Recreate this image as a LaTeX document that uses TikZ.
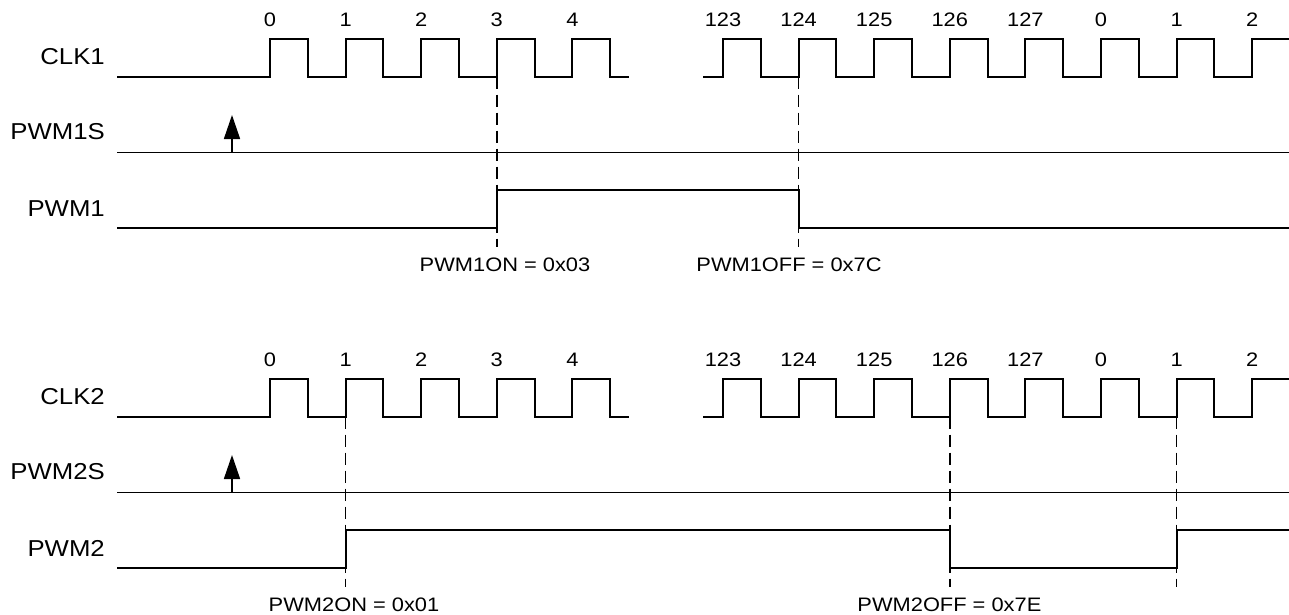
\documentclass[tikz,border=0pt]{standalone}
\usepackage{fontspec}
\usepackage{graphicx}
\setmainfont{Liberation Sans}
\usetikzlibrary{arrows.meta}
\newcommand{\hwide}[1]{\scalebox{1.12}[1]{#1}}
\tikzset{
  sig/.style={line width=2pt, line join=miter},
  thinsig/.style={line width=1.5pt},
  marker/.style={line width=1.5pt, dash pattern=on 12pt off 6pt},
  rowlab/.style={anchor=east, inner sep=0pt, font=\fontsize{23}{23}\selectfont},
  numlab/.style={inner sep=0pt, font=\fontsize{19.5}{19.5}\selectfont},
  reglab/.style={inner sep=0pt, font=\fontsize{19.5}{19.5}\selectfont},
  trig/.style={line width=1.6pt, -{Triangle[length=24pt,width=16pt]}}
}
\begin{document}
\begin{tikzpicture}[x=1pt,y=-1pt]
\useasboundingbox (0,0) rectangle (1289,614);
% ---------- top group ----------
\node[rowlab] (lclk1) at (105,56.7) {\hwide{CLK1}};
\node[rowlab] (lpwm1s) at (105,131.7) {\hwide{PWM1S}};
\node[rowlab] (lpwm1) at (105,208.3) {\hwide{PWM1}};
% clock 1
\draw[sig] (117,76.7) foreach \k in {0,...,4} { -- ({270+75.6*\k},76.7) -- ++(0,-37.7) -- ++(37.8,0) -- ++(0,37.7) } -- (628.6,76.7);
\draw[sig] (703.3,76.7) foreach \k in {0,...,6} { -- ({723+75.6*\k},76.7) -- ++(0,-37.7) -- ++(37.8,0) -- ++(0,37.7) } -- (1252.2,76.7) -- (1252.2,39) -- (1289,39);
\foreach \t [count=\i from 0] in {0,1,2,3,4}
  \node[numlab] (n1a\i) at ({270+75.6*\i},20) {\hwide{\t}};
\foreach \t [count=\i from 0] in {123,124,125,126,127,0,1,2}
  \node[numlab] (n1b\i) at ({723+75.6*\i},20) {\hwide{\t}};
% PWM1S
\draw[thinsig] (117,152.3) -- (1289,152.3);
\coordinate (s1base) at (232,152.3);
\coordinate (s1tip) at (232,115);
\draw[trig] (s1base) -- (s1tip);
% PWM1
\draw[sig] (117,228.3) -- (496.8,228.3) -- (496.8,190) -- (798.6,190) -- (798.6,228.3) -- (1289,228.3);
% markers
\coordinate (m1t) at (496.8,76.7); \coordinate (m1b) at (496.8,246.7);
\coordinate (m2t) at (798.6,76.7); \coordinate (m2b) at (798.6,246.7);
\draw[marker] (m1t) -- (m1b);
\draw[marker] (m2t) -- (m2b);
\node[reglab] (on1) at (505,265) {\hwide{PWM1ON = 0x03}};
\node[reglab] (off1) at (789,265) {\hwide{PWM1OFF = 0x7C}};
% ---------- bottom group ----------
\node[rowlab] (lclk2) at (105,396.7) {\hwide{CLK2}};
\node[rowlab] (lpwm2s) at (105,471.7) {\hwide{PWM2S}};
\node[rowlab] (lpwm2) at (105,548.3) {\hwide{PWM2}};
\draw[sig] (117,416.7) foreach \k in {0,...,4} { -- ({270+75.6*\k},416.7) -- ++(0,-37.7) -- ++(37.8,0) -- ++(0,37.7) } -- (628.6,416.7);
\draw[sig] (703.3,416.7) foreach \k in {0,...,6} { -- ({723+75.6*\k},416.7) -- ++(0,-37.7) -- ++(37.8,0) -- ++(0,37.7) } -- (1252.2,416.7) -- (1252.2,379) -- (1289,379);
\foreach \t [count=\i from 0] in {0,1,2,3,4}
  \node[numlab] (n2a\i) at ({270+75.6*\i},360) {\hwide{\t}};
\foreach \t [count=\i from 0] in {123,124,125,126,127,0,1,2}
  \node[numlab] (n2b\i) at ({723+75.6*\i},360) {\hwide{\t}};
\draw[thinsig] (117,492.3) -- (1289,492.3);
\coordinate (s2base) at (232,492.3);
\coordinate (s2tip) at (232,455);
\draw[trig] (s2base) -- (s2tip);
\draw[sig] (117,568.3) -- (345.6,568.3) -- (345.6,530) -- (949.8,530) -- (949.8,568.3) -- (1176.6,568.3) -- (1176.6,530) -- (1289,530);
\coordinate (m3t) at (345.6,416.7); \coordinate (m3b) at (345.6,586.7);
\coordinate (m4t) at (949.8,416.7); \coordinate (m4b) at (949.8,586.7);
\coordinate (m5t) at (1176.6,416.7); \coordinate (m5b) at (1176.6,586.7);
\draw[marker] (m3t) -- (m3b);
\draw[marker] (m4t) -- (m4b);
\draw[marker] (m5t) -- (m5b);
\node[reglab] (on2) at (354,605) {\hwide{PWM2ON = 0x01}};
\node[reglab] (off2) at (949.4,605) {\hwide{PWM2OFF = 0x7E}};
\end{tikzpicture}
\end{document}
